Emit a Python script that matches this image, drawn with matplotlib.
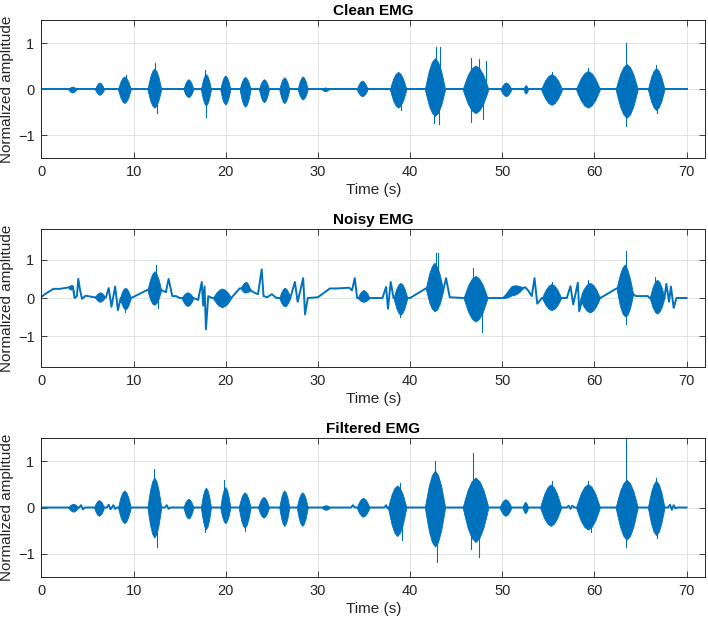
import numpy as np
import matplotlib
matplotlib.use("Agg")
import matplotlib.pyplot as plt

plt.rcParams['font.family'] = ['Liberation Sans', 'DejaVu Sans']

BLUE = '#0072BD'

# ---------------- data ----------------
titles = ['Clean EMG', 'Noisy EMG', 'Filtered EMG']
x_ticks = [0, 10, 20, 30, 40, 50, 60, 70]
y_ticks = [-1, 0, 1]

# Clean EMG: bursts (onset s, offset s, upper peak, lower peak)
clean_t0 = [2.9, 5.8, 8.3, 11.5, 15.4, 17.3, 19.4, 21.5, 23.6, 25.8, 27.8, 30.4, 34.2,
            37.8, 41.6, 45.7, 49.8, 52.3, 54.2, 58.0, 62.3, 65.8]
clean_t1 = [3.8, 6.8, 9.7, 13.0, 16.5, 18.4, 20.5, 22.7, 24.7, 26.9, 28.9, 31.2, 35.4,
            39.6, 43.8, 48.5, 51.0, 52.8, 56.5, 60.6, 64.7, 67.6]
clean_top = [0.06, 0.15, 0.28, 0.45, 0.22, 0.33, 0.30, 0.27, 0.22, 0.26, 0.28, 0.04, 0.19,
             0.38, 0.68, 0.52, 0.15, 0.09, 0.33, 0.40, 0.55, 0.46]
clean_bot = [-0.07, -0.12, -0.30, -0.40, -0.17, -0.35, -0.33, -0.38, -0.28, -0.30, -0.22, -0.04, -0.15,
             -0.40, -0.58, -0.52, -0.15, -0.09, -0.34, -0.40, -0.62, -0.45]
clean_base_t = [0, 70]
clean_base_y = [0, 0]
clean_spike_t = [12.3, 12.5, 17.85, 17.8, 9.2, 42.8, 43.2, 42.6, 43.1, 46.6, 47.5, 48.2, 46.6, 47.9,
                 63.4, 63.4, 39.0, 55.4, 59.3, 66.7, 66.8]
clean_spike_v = [0.58, -0.52, -0.61, 0.41, 0.31, 0.91, 0.91, -0.74, -0.75, 0.69, 0.65, 0.62, -0.70, -0.65,
                 1.0, -0.8, -0.45, 0.38, 0.47, 0.53, -0.52]

# Noisy EMG: wandering baseline keypoints + bursts riding on it
noisy_base_t = [0, 0.5, 1.3, 2.0, 3.0, 3.4, 3.6, 3.85, 4.0, 4.2, 4.4, 4.8, 5.5, 6.3, 7.0, 7.3, 7.6, 8.0,
                8.3, 8.6, 9.7, 10.0, 11.4, 12.3, 13.1, 13.5, 13.8, 14.2, 14.6, 15.0, 16.5, 17.0, 17.4,
                17.55, 17.7, 17.85, 18.1, 18.5, 20.6, 21.5, 22.3, 23.0, 23.5, 23.9, 24.1, 24.5, 25.0,
                25.5, 27.0, 27.5, 27.8, 28.4, 28.6, 28.9, 30.0, 31.3, 32.0, 33.4, 33.7, 34.0, 34.25,
                35.6, 37.0, 37.4, 37.6, 37.9, 38.2, 39.7, 40.0, 41.7, 42.6, 43.6, 43.9, 44.3, 45.8,
                48.4, 50.1, 51.0, 52.0, 52.5, 52.8, 53.2, 53.5, 53.8, 54.3, 56.4, 57.0, 57.4, 57.7,
                58.2, 58.35, 58.6, 60.6, 61.0, 62.4, 63.3, 64.2, 64.5, 65.8, 66.0, 67.6, 67.8, 68.1,
                68.3, 68.6, 68.9, 70.0]
noisy_base_y = [0.03, 0.12, 0.24, 0.24, 0.28, 0.30, 0.00, 0.05, 0.50, 0.20, -0.02, 0.06, 0.03, 0.00, 0.02,
                0.26, -0.23, 0.30, -0.32, 0.00, 0.00, 0.03, 0.20, 0.28, 0.20, 0.15, 0.50, 0.05, 0.05,
                0.00, 0.00, -0.05, 0.42, -0.20, 0.30, -0.82, 0.05, 0.00, 0.00, 0.25, 0.28, 0.15, 0.10,
                0.75, 0.05, 0.02, 0.10, 0.00, 0.00, 0.42, -0.10, 0.52, -0.43, 0.00, 0.02, 0.25, 0.25,
                0.27, 0.20, 0.52, 0.00, 0.00, 0.00, 0.29, -0.28, 0.42, 0.00, 0.00, 0.00, 0.25, 0.30,
                0.20, 0.52, 0.02, 0.00, 0.00, 0.00, 0.20, 0.25, 0.28, 0.20, 0.05, 0.52, -0.15, 0.00,
                0.00, 0.00, 0.31, -0.17, 0.40, -0.35, 0.00, 0.00, 0.05, 0.25, 0.30, 0.10, 0.05, 0.05,
                0.00, 0.00, 0.37, -0.10, 0.30, -0.26, 0.00, 0.00]
noisy_t0 = [2.9, 5.8, 8.5, 11.5, 15.2, 18.6, 21.6, 25.8, 34.3, 38.2, 41.7, 45.8, 50.1, 54.3, 58.4, 62.4, 66.0]
noisy_t1 = [3.5, 6.9, 9.7, 13.0, 16.5, 20.6, 22.7, 27.0, 35.6, 39.7, 43.6, 48.4, 52.3, 56.4, 60.6, 64.2, 67.6]
noisy_top = [0.34, 0.15, 0.27, 0.70, 0.15, 0.25, 0.42, 0.27, 0.21, 0.40, 0.92, 0.58, 0.33, 0.37, 0.40, 0.88, 0.48]
noisy_bot = [0.22, -0.10, -0.30, -0.18, -0.21, -0.24, 0.14, -0.22, -0.10, -0.44, -0.35, -0.62, 0.07, -0.32, -0.38, -0.48, -0.41]
noisy_spike_t = [12.4, 12.6, 42.8, 43.0, 46.8, 47.8, 63.4, 63.4, 9.1, 38.9, 55.4, 59.3, 66.6]
noisy_spike_v = [0.87, -0.25, 1.18, 1.18, 0.78, -0.90, 1.22, -0.67, -0.36, -0.50, 0.42, 0.46, 0.55]

# Filtered EMG
filt_t0 = [2.9, 5.7, 8.3, 11.5, 15.4, 17.3, 19.4, 21.4, 23.5, 25.8, 27.7, 30.4, 34.2,
           37.6, 41.6, 45.7, 49.7, 52.2, 54.1, 58.0, 62.3, 65.8]
filt_t1 = [4.0, 6.8, 9.7, 13.0, 16.5, 18.4, 20.5, 22.7, 24.7, 26.9, 28.9, 31.3, 35.6,
           39.6, 43.8, 48.5, 51.0, 52.8, 56.4, 60.6, 64.7, 67.6]
filt_top = [0.08, 0.16, 0.37, 0.65, 0.19, 0.43, 0.44, 0.33, 0.23, 0.37, 0.33, 0.05, 0.21,
            0.48, 0.80, 0.65, 0.18, 0.12, 0.50, 0.51, 0.60, 0.58]
filt_bot = [-0.09, -0.18, -0.34, -0.65, -0.24, -0.47, -0.34, -0.44, -0.22, -0.40, -0.40, -0.05, -0.20,
            -0.62, -0.85, -0.75, -0.18, -0.12, -0.40, -0.48, -0.70, -0.60]
filt_base_t = [0, 4.1, 4.3, 4.5, 4.7, 7.1, 7.3, 7.5, 7.8, 8.0, 8.2, 13.4, 13.6, 13.8, 14.0, 33.6, 33.8,
               34.0, 37.2, 37.4, 37.55, 37.7, 57.0, 57.2, 57.4, 57.6, 57.8, 68.0, 68.2, 68.4, 68.6,
               68.8, 69.0, 70.0]
filt_base_y = [0, 0, 0.05, -0.04, 0, 0, 0.06, -0.04, 0.05, -0.03, 0, 0, 0.05, -0.03, 0, 0, 0.05,
               0, 0, 0.05, -0.02, 0, 0, 0.04, -0.03, 0.04, 0, 0, 0.06, -0.05, 0.05, -0.02, 0, 0]
filt_spike_t = [12.2, 12.5, 19.8, 17.8, 22.1, 42.7, 42.9, 46.8, 47.5, 46.6, 63.4, 63.4,
                38.9, 39.1, 55.4, 59.3, 59.6, 66.7, 66.8]
filt_spike_v = [0.84, -0.85, 0.59, -0.54, -0.50, 1.01, -1.19, 1.18, -1.07, -0.90, 1.50, -0.85,
                0.54, -0.70, 0.57, 0.58, -0.54, 0.65, -0.67]

ylims = [1.5, 1.8, 1.5]

panels = [
    (clean_base_t, clean_base_y, clean_t0, clean_t1, clean_top, clean_bot, clean_spike_t, clean_spike_v),
    (noisy_base_t, noisy_base_y, noisy_t0, noisy_t1, noisy_top, noisy_bot, noisy_spike_t, noisy_spike_v),
    (filt_base_t, filt_base_y, filt_t0, filt_t1, filt_top, filt_bot, filt_spike_t, filt_spike_v),
]

# burst envelope profile (style)
PROF_U = np.array([0, 0.08, 0.2, 0.35, 0.5, 0.65, 0.8, 0.92, 1.0])
PROF_V = np.array([0, 0.25, 0.6, 0.88, 1.0, 0.88, 0.6, 0.25, 0])

fig = plt.figure(figsize=(7.08, 6.25), dpi=100)
positions = [(0.0585, 0.7467, 0.9373, 0.2208),
             (0.0585, 0.4133, 0.9373, 0.2198),
             (0.0585, 0.0773, 0.9373, 0.2214)]

for i, (pos, data) in enumerate(zip(positions, panels)):
    bt, by, t0s, t1s, tops, bots, st, sv = data
    ax = fig.add_axes(pos)
    ax.set_axisbelow(True)
    ax.grid(True, color='#e3e3e3', lw=0.7)
    ax.plot(bt, by, color=BLUE, lw=1.4)
    for a, b, top, bot in zip(t0s, t1s, tops, bots):
        tt = np.linspace(a, b, 80)
        prof = np.interp((tt - a) / (b - a), PROF_U, PROF_V)
        base = np.interp(tt, bt, by)
        bc = np.interp((a + b) / 2, bt, by)
        ax.fill_between(tt, base + prof * (bot - bc), base + prof * (top - bc),
                        color=BLUE, lw=0.6, edgecolor=BLUE)
    for t, v in zip(st, sv):
        b0 = np.interp(t, bt, by)
        ax.plot([t, t], [b0, v], color=BLUE, lw=0.8)
    ax.set_xlim(0, 72)
    ax.set_ylim(-ylims[i], ylims[i])
    ax.set_xticks(x_ticks)
    ax.set_yticks(y_ticks)
    ax.tick_params(direction='in', top=True, right=True, length=4, width=0.6,
                   labelsize=10.5, colors='#262626', pad=5)
    for s in ax.spines.values():
        s.set_color('#262626')
        s.set_linewidth(0.7)
    ax.set_title(titles[i], fontsize=11, fontweight='bold', pad=4)
    ax.set_xlabel('Time (s)', fontsize=11, labelpad=3, color='#262626')
    ax.set_ylabel('Normalized amplitude', fontsize=11, labelpad=3, color='#262626')

fig.savefig('out.png', dpi=100)
